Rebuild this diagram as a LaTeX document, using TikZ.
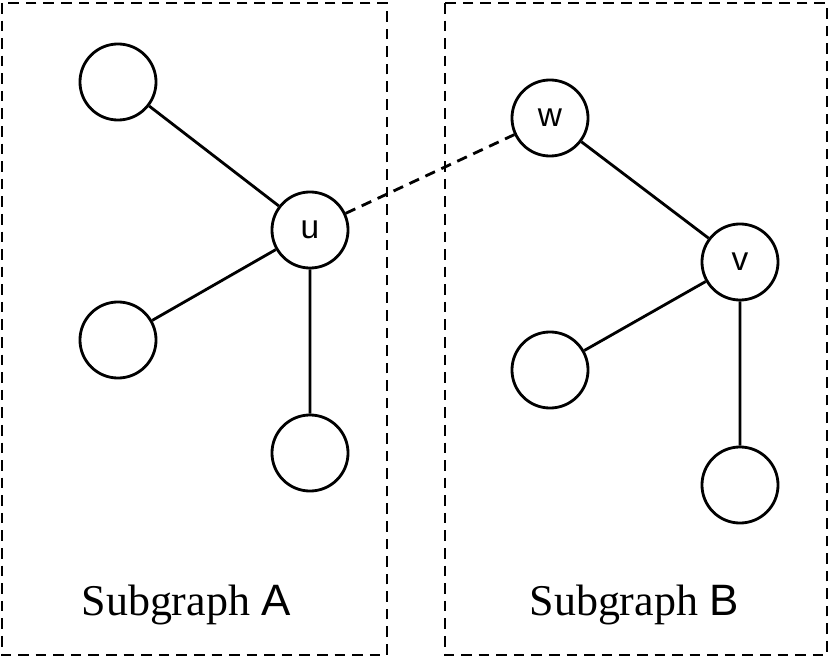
\documentclass[tikz,border=0pt]{standalone}
\usepackage{fontspec}
\setmainfont{Liberation Serif}
\newfontfamily\sansf{Liberation Sans}
\begin{document}
\begin{tikzpicture}[x=0.01cm,y=-0.01cm,
  vtx/.style={circle,draw,line width=0.8pt,minimum size=0.76cm,inner sep=0pt,font=\sansf\fontsize{9.5}{11}\selectfont},
  boxs/.style={draw,dashed,line width=0.8pt,dash pattern=on 3pt off 2pt},
  edge/.style={line width=0.8pt}]
\useasboundingbox (0,0) rectangle (830,667);
\draw[boxs] (2,3) rectangle (387,655);
\draw[boxs] (445,3) rectangle (827,655);
\node[vtx] (a1) at (118,82) {};
\node[vtx] (u) at (310,230) {u};
\node[vtx] (a2) at (118,340) {};
\node[vtx] (a3) at (310,453) {};
\node[vtx] (w) at (550,118) {w};
\node[vtx] (v) at (740,262) {v};
\node[vtx] (b1) at (550,370) {};
\node[vtx] (b2) at (740,485) {};
\draw[edge] (a1)--(u) (u)--(a2) (u)--(a3) (w)--(v) (v)--(b1) (v)--(b2);
\draw[edge,dashed,dash pattern=on 3pt off 2pt] (u)--(w);
\node[font=\fontsize{12.5}{15}\selectfont] (la) at (186,605) {Subgraph {\sansf A}};
\node[font=\fontsize{12.5}{15}\selectfont] (lb) at (634,605) {Subgraph {\sansf B}};
\end{tikzpicture}
\end{document}
